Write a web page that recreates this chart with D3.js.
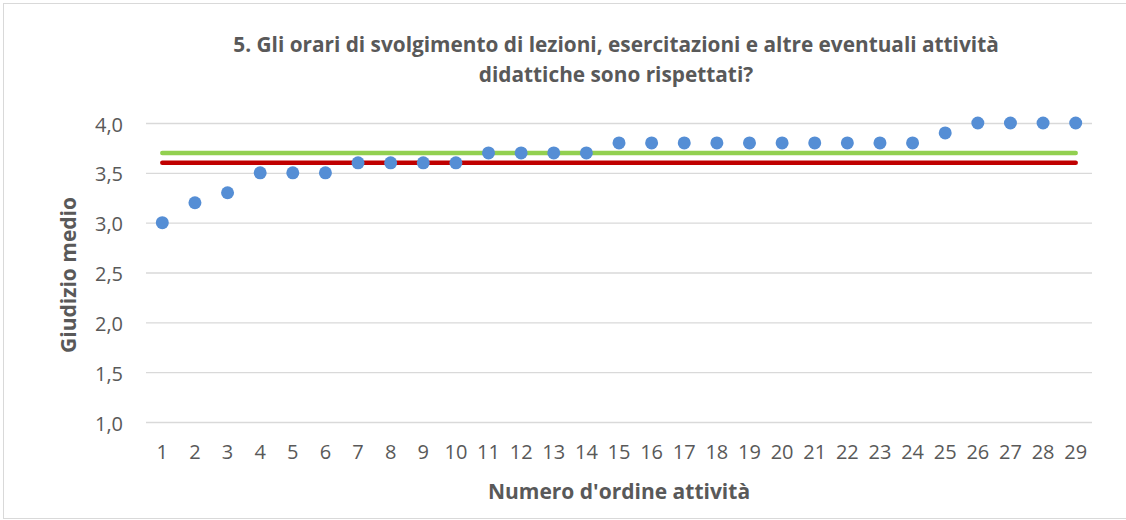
<!DOCTYPE html>
<html>
<head>
<meta charset="utf-8">
<script src="https://cdn.jsdelivr.net/npm/d3@7"></script>
<style>
  body { margin: 0; background: #fff; }
  text { font-family: "Open Sans", "Liberation Sans", sans-serif; fill: #595959; }
</style>
</head>
<body>
<div class="canvas"></div>
<script>
// data
const activities = d3.range(1, 30);
const scores = [3.0, 3.2, 3.3, 3.5, 3.5, 3.5, 3.6, 3.6, 3.6, 3.6,
                3.7, 3.7, 3.7, 3.7, 3.8, 3.8, 3.8, 3.8, 3.8, 3.8,
                3.8, 3.8, 3.8, 3.8, 3.9, 4.0, 4.0, 4.0, 4.0];
const greenLevel = [3.7];
const redLevel = [3.6];
const yTicks = [1.0, 1.5, 2.0, 2.5, 3.0, 3.5, 4.0];
const titleLines = ['5. Gli orari di svolgimento di lezioni, esercitazioni e altre eventuali attività',
                    'didattiche sono rispettati?'];

const width = 1126;
const height = 520;

const svg = d3.select('.canvas')
  .append('svg')
    .attr('width', width)
    .attr('height', height);

// outer frame
svg.append('rect')
  .attr('x', 3.5).attr('y', 3.5)
  .attr('width', width - 3).attr('height', height - 5)
  .attr('fill', 'none')
  .attr('stroke', '#d9d9d9');

const margin = {top: 123, right: 34, bottom: 98, left: 146};
const graphWidth = width - margin.left - margin.right;
const graphHeight = 422 - margin.top;

const graph = svg.append('g')
  .attr('transform', `translate(${margin.left}, ${margin.top})`);

const x = d3.scaleBand()
  .domain(activities)
  .range([0, graphWidth])
  .padding(0);

const y = d3.scaleLinear()
  .domain([1, 4])
  .range([graphHeight, 0]);

// gridlines + y labels
const yAxis = d3.axisLeft(y)
  .tickValues(yTicks)
  .tickSize(-graphWidth)
  .tickPadding(23)
  .tickFormat(d => d3.format('.1f')(d).replace('.', ','));

const yAxisGroup = graph.append('g').call(yAxis);
yAxisGroup.select('.domain').remove();
yAxisGroup.selectAll('line').attr('stroke', '#d9d9d9').attr('stroke-width', 1.3);
yAxisGroup.selectAll('text')
  .attr('font-size', 20)
  .attr('dy', '0.4em')
  .style('font-family', '"Open Sans", sans-serif')
  .attr('fill', '#595959');

// x labels
const xAxis = d3.axisBottom(x).tickSize(0).tickPadding(23);
const xAxisGroup = graph.append('g')
  .attr('transform', `translate(0, ${graphHeight})`)
  .call(xAxis);
xAxisGroup.select('.domain').remove();
xAxisGroup.selectAll('text')
  .attr('font-size', 20)
  .style('font-family', '"Open Sans", sans-serif')
  .attr('fill', '#595959');

const cx = d => x(d) + x.bandwidth() / 2;

// reference lines
const refLine = (level, colour) => {
  graph.append('line')
    .attr('x1', cx(activities[0]))
    .attr('x2', cx(activities[activities.length - 1]))
    .attr('y1', y(level)).attr('y2', y(level))
    .attr('stroke', colour)
    .attr('stroke-width', 4.5)
    .attr('stroke-linecap', 'round');
};
refLine(greenLevel[0], '#92d050');
refLine(redLevel[0], '#c00000');

// points
graph.selectAll('circle')
  .data(scores)
  .enter()
  .append('circle')
    .attr('cx', (d, i) => cx(activities[i]))
    .attr('cy', d => y(d))
    .attr('r', 6.5)
    .attr('fill', '#558ed5');

// title
svg.append('text')
  .attr('text-anchor', 'middle')
  .attr('font-size', 20.8)
  .attr('font-weight', 'bold')
  .selectAll('tspan')
  .data(titleLines)
  .enter()
  .append('tspan')
    .attr('x', 616)
    .attr('y', (d, i) => 52 + i * 30)
    .text(d => d);

// axis titles
svg.append('text')
  .attr('x', 619).attr('y', 499)
  .attr('text-anchor', 'middle')
  .attr('font-size', 21)
  .attr('font-weight', 'bold')
  .text("Numero d'ordine attività");

svg.append('text')
  .attr('transform', 'translate(76, 275) rotate(-90)')
  .attr('text-anchor', 'middle')
  .attr('font-size', 21)
  .attr('font-weight', 'bold')
  .text('Giudizio medio');
</script>
</body>
</html>
